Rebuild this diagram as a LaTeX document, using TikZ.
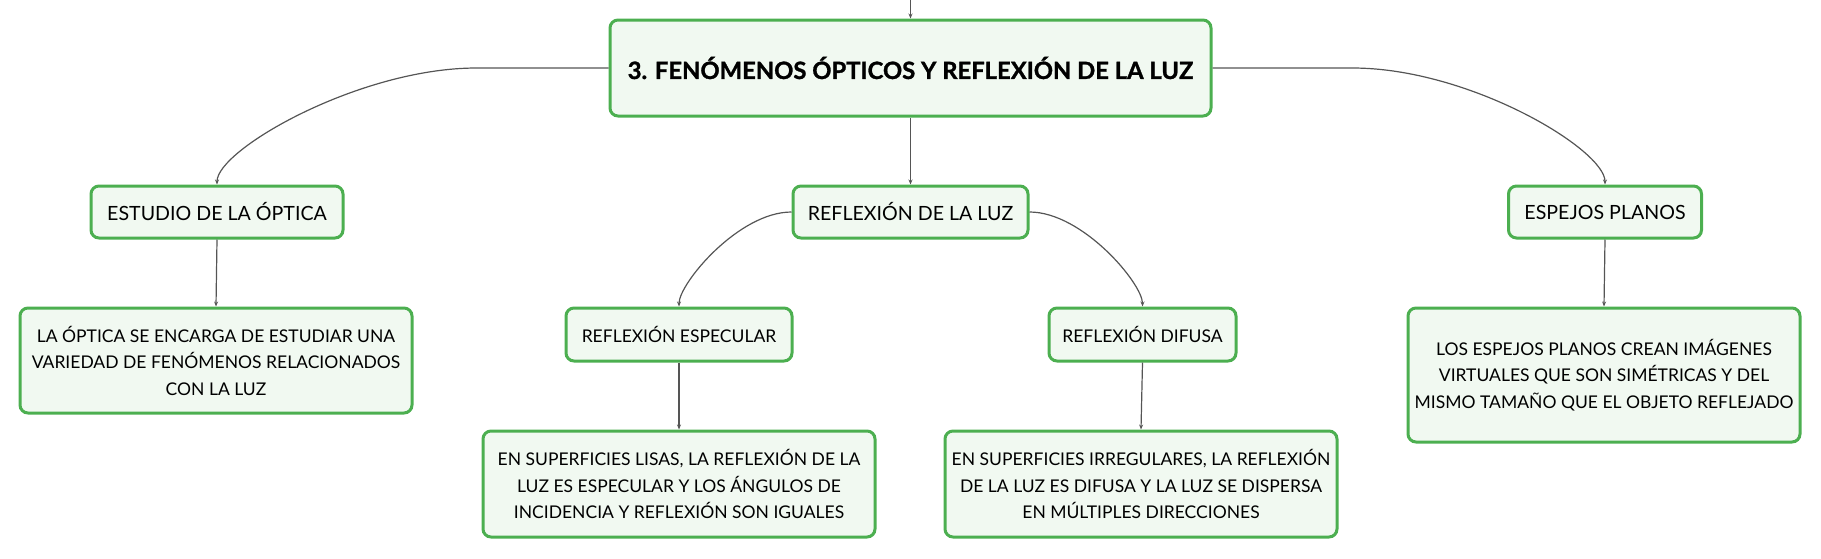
\documentclass[tikz,border=0pt]{standalone}
\usepackage{fontspec}
\setmainfont{Lato}
\newfontfamily\heavyfont{Lato}[BoldFeatures={FakeBold=1.2}]
\usetikzlibrary{arrows.meta}
\definecolor{boxgreen}{HTML}{4CAF50}
\definecolor{boxfill}{HTML}{F1F9F1}
\definecolor{linegray}{HTML}{555555}
\tikzset{
  topic/.style={draw=boxgreen,line width=3pt,fill=boxfill,rounded corners=8pt,
    align=center,inner sep=0pt,font=\fontsize{17.5}{26.5}\selectfont},
  subtopic/.style={topic,font=\fontsize{19.6}{26.5}\selectfont},
  maintopic/.style={topic,font=\fontsize{23.8}{27}\selectfont\heavyfont\bfseries},
  conn/.style={draw=linegray,line width=1.2pt,-{Stealth[length=5pt,width=4pt]}}
}
\begin{document}
\begin{tikzpicture}[x=1pt,y=-1pt]
    \useasboundingbox (0,0) rectangle (1821,558);
    \coordinate(top) at (910.5,0);
    \node[maintopic,minimum width=601,minimum height=96](title) at (910.5,68) {3. FENÓMENOS ÓPTICOS Y REFLEXIÓN DE LA LUZ};
    \node[subtopic,minimum width=252,minimum height=52](estudio) at (217,212) {ESTUDIO DE LA ÓPTICA};
    \node[subtopic,minimum width=235,minimum height=52](reflexion) at (910.5,212) {REFLEXIÓN DE LA LUZ};
    \node[subtopic,minimum width=193,minimum height=52](espejos) at (1605,212) {ESPEJOS PLANOS};
    \node[topic,minimum width=392,minimum height=105](optica) at (216,360.5) {LA ÓPTICA SE ENCARGA DE ESTUDIAR UNA\\VARIEDAD DE FENÓMENOS RELACIONADOS\\CON LA LUZ};
    \node[topic,minimum width=226,minimum height=53](especular) at (679,334.5) {REFLEXIÓN ESPECULAR};
    \node[topic,minimum width=187,minimum height=53](difusa) at (1142.5,334.5) {REFLEXIÓN DIFUSA};
    \node[topic,minimum width=392,minimum height=134](imagenes) at (1604,375) {LOS ESPEJOS PLANOS CREAN IMÁGENES\\VIRTUALES QUE SON SIMÉTRICAS Y DEL\\MISMO TAMAÑO QUE EL OBJETO REFLEJADO};
    \node[topic,minimum width=392,minimum height=106](lisas) at (679,484) {EN SUPERFICIES LISAS, LA REFLEXIÓN DE LA\\LUZ ES ESPECULAR Y LOS ÁNGULOS DE\\INCIDENCIA Y REFLEXIÓN SON IGUALES};
    \node[topic,minimum width=392,minimum height=106](irregulares) at (1141,484) {EN SUPERFICIES IRREGULARES, LA REFLEXIÓN\\DE LA LUZ ES DIFUSA Y LA LUZ SE DISPERSA\\EN MÚLTIPLES DIRECCIONES};
    % connectors
    \draw[conn] (top)--(title.north);
    \draw[conn] (title.west)--++(-132,0) .. controls +(-117,0) and +(0,-35) .. (estudio.north);
    \draw[conn] (title.east)--++(140,0) .. controls +(117,0) and +(0,-35) .. (espejos.north);
    \draw[conn] (title.south)--(reflexion.north);
    \draw[conn] (estudio.south)--(optica.north);
    \draw[conn] (reflexion.west) .. controls +(-53,0) and +(0,-23) .. (especular.north);
    \draw[conn] (reflexion.east) .. controls +(53,0) and +(0,-23) .. (difusa.north);
    \draw[conn] (especular.south)--(lisas.north);
    \draw[conn] (difusa.south)--(irregulares.north);
    \draw[conn] (espejos.south)--(imagenes.north);
\end{tikzpicture}
\end{document}
